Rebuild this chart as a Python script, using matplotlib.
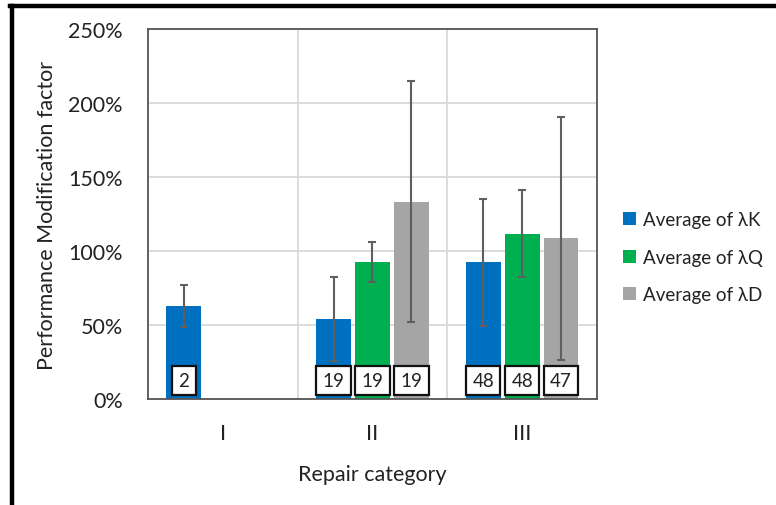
import matplotlib
matplotlib.use("Agg")
import matplotlib.pyplot as plt
from matplotlib.lines import Line2D
import numpy as np

plt.rcParams['font.family'] = ['Lato', 'DejaVu Sans']

categories = ["I", "II", "III"]
series_names = ["Average of λK", "Average of λQ", "Average of λD"]
colors = ["#0070C0", "#00B050", "#A5A5A5"]

# mean values (%) per category; None where the series has no data
lam_k = [63, 54.4, 92.6]
lam_q = [None, 93, 112]
lam_d = [None, 133.6, 108.8]

# symmetric error bar half-widths (%)
err_k = [14, 28.5, 42.7]
err_q = [None, 13.5, 29.5]
err_d = [None, 81.5, 82]

# sample counts shown at the foot of each bar
n_k = [2, 19, 48]
n_q = [None, 19, 48]
n_d = [None, 19, 47]

values = [lam_k, lam_q, lam_d]
errors = [err_k, err_q, err_d]
counts = [n_k, n_q, n_d]

fig = plt.figure(figsize=(7.76, 5.06), dpi=100)
ax = fig.add_axes([0.1907, 0.2085, 0.5786, 0.7322])

x = np.arange(len(categories))
width = 0.233
offsets = [-0.26, 0.0, 0.26]

for s in range(3):
    xs, ys, es, ns = [], [], [], []
    for i in range(len(categories)):
        if values[s][i] is None:
            continue
        xs.append(x[i] + offsets[s])
        ys.append(values[s][i])
        es.append(errors[s][i])
        ns.append(counts[s][i])
    ax.bar(xs, ys, width, color=colors[s], label=series_names[s], zorder=2)
    ax.errorbar(xs, ys, yerr=es, fmt="none", ecolor="#5f5f5f",
                elinewidth=1.5, capsize=3, capthick=1.5, zorder=3)
    for xi, ni in zip(xs, ns):
        ax.annotate(str(ni), xy=(xi, 0), xytext=(0, 13.5), textcoords="offset points",
                    ha="center", va="center", fontsize=13.5, color="#222222", zorder=4,
                    bbox=dict(boxstyle="square,pad=0.33", fc="white", ec="#111111", lw=1.6))

ax.set_xlim(-0.5, 2.5)
ax.set_ylim(0, 250)
ax.set_yticks(np.arange(0, 251, 50))
ax.set_yticklabels([f"{v}%" for v in range(0, 251, 50)], fontsize=15.5, color="#222222")
ax.set_xticks(x)
ax.set_xticklabels(categories, fontsize=15.5, color="#222222")
ax.set_xticks([0.5, 1.5], minor=True)
ax.tick_params(axis="x", which="both", length=0, pad=17)
ax.tick_params(axis="y", length=0, pad=18)

ax.grid(axis="y", color="#d9d9d9", lw=1.3, zorder=0)
ax.grid(axis="x", which="minor", color="#d9d9d9", lw=1.3, zorder=0)
ax.set_axisbelow(True)
for sp in ax.spines.values():
    sp.set_color("#555555")
    sp.set_linewidth(1.3)

ax.set_xlabel("Repair category", fontsize=15.5, color="#222222", labelpad=15)
ax.set_ylabel("Performance Modification factor", fontsize=15.5, color="#222222", labelpad=8)

ax.legend(loc="center left", bbox_to_anchor=(1.02, 0.384), frameon=False,
          fontsize=13.5, handlelength=0.7, handleheight=0.7, handletextpad=0.4,
          labelspacing=1.1, labelcolor="#222222")

# outer frame lines on the left and top edges
fig.add_artist(Line2D([0.0155, 0.0155], [0.0, 0.986], transform=fig.transFigure,
                      color="black", lw=3.2))
fig.add_artist(Line2D([0.0135, 1.0], [0.986, 0.986], transform=fig.transFigure,
                      color="black", lw=3.2))

fig.savefig("out.png", dpi=100)
